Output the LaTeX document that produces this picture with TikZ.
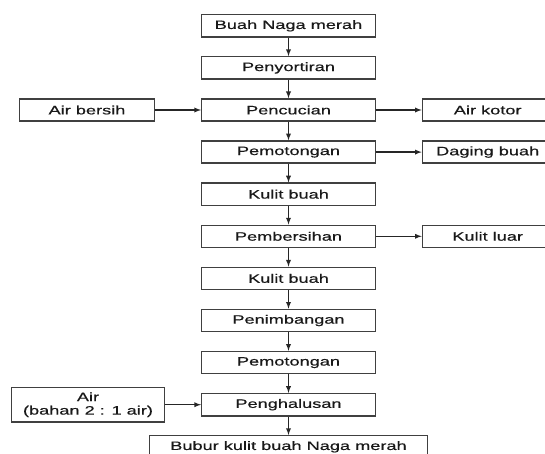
\documentclass[tikz,border=0pt]{standalone}
\usepackage{fontspec}
\setmainfont{Liberation Sans}[FakeStretch=1.49, FakeBold=0.6]
\usetikzlibrary{positioning}
\begin{document}
\begin{tikzpicture}[>=latex, every node/.style={font=\fontsize{12.2}{13.4}\selectfont, text=black!90},
  proses/.style={draw=black!75, line width=1.4pt, minimum width=173.6pt, minimum height=22.2pt, inner sep=0pt},
  sisi/.style={draw=black!75, line width=1.4pt, minimum width=134.6pt, minimum height=22.2pt, inner sep=0pt, align=center},
  panah/.style={->, line width=1.3pt, draw=black!85}]
\useasboundingbox (0,0) rectangle (545pt,-454pt);
\node[proses] (buah) at (288.5pt,-25.8pt) {Buah Naga merah};
\node[proses, below=18.5pt of buah] (sortir) {Penyortiran};
\node[proses, below=18.5pt of sortir] (cuci) {Pencucian};
\node[proses, below=18.5pt of cuci] (potong1) {Pemotongan};
\node[proses, below=18.5pt of potong1] (kulit1) {Kulit buah};
\node[proses, below=18.5pt of kulit1] (bersih) {Pembersihan};
\node[proses, below=18.5pt of bersih] (kulit2) {Kulit buah};
\node[proses, below=18.5pt of kulit2] (timbang) {Penimbangan};
\node[proses, below=18.5pt of timbang] (potong2) {Pemotongan};
\node[proses, below=18.5pt of potong2] (halus) {Penghalusan};
\node[proses, minimum width=277.6pt, below=18.5pt of halus] (bubur) {Bubur kulit buah Naga merah};
% masukan
\node[sisi, left=46pt of cuci] (airbersih) {Air bersih};
\node[sisi, minimum width=152.6pt, minimum height=34.6pt, left=36pt of halus] (air) {Air\\(bahan 2 : 1 air)};
% keluaran
\node[sisi, minimum width=130.6pt, right=45.7pt of cuci] (airkotor) {Air kotor};
\node[sisi, minimum width=130.6pt, right=45.7pt of potong1] (daging) {Daging buah};
\node[sisi, minimum width=130.6pt, right=45.7pt of bersih] (kulitluar) {Kulit luar};
\foreach \a/\b in {buah/sortir, sortir/cuci, cuci/potong1, potong1/kulit1, kulit1/bersih,
  bersih/kulit2, kulit2/timbang, timbang/potong2, potong2/halus, halus/bubur}
  \draw[panah] (\a) -- (\b);
\draw[panah] (airbersih) -- (cuci);
\draw[panah] (air) -- (halus);
\draw[panah] (cuci) -- (airkotor);
\draw[panah] (potong1) -- (daging);
\draw[panah] (bersih) -- (kulitluar);
\end{tikzpicture}
\end{document}
